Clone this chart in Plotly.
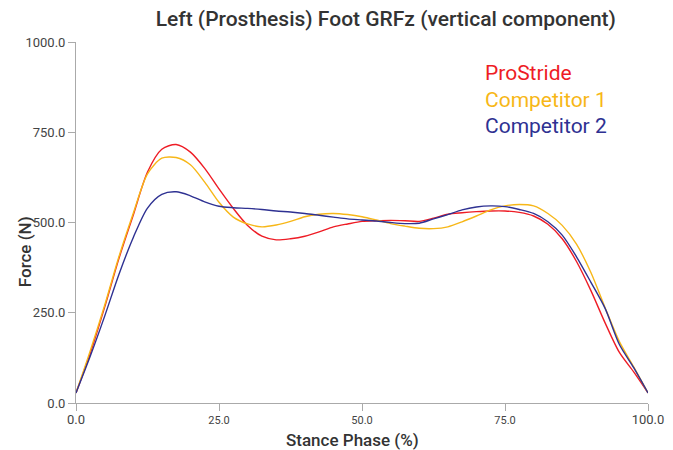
import plotly.graph_objects as go

stance = [0, 2.5, 5, 7.5, 10, 12.5, 15, 17.5, 20, 22.5, 25, 27.5, 30, 32.5, 35, 37.5, 40,
          42.5, 45, 47.5, 50, 52.5, 55, 57.5, 60, 62.5, 65, 67.5, 70, 72.5, 75, 77.5, 80,
          82.5, 85, 87.5, 90, 92.5, 95, 97.5, 100]

prostride = [28, 138, 265, 400, 520, 640, 703, 716, 695, 650, 593, 539, 492, 462, 452, 455, 462,
             474, 488, 496, 503, 505, 506, 505, 503, 512, 523, 527, 530, 532, 532, 528, 518,
             495, 455, 392, 312, 222, 140, 86, 28]

competitor1 = [28, 145, 270, 405, 525, 635, 678, 680, 660, 612, 556, 515, 496, 488, 493, 503, 516,
               523, 525, 522, 516, 507, 497, 490, 484, 483, 488, 502, 518, 535, 546, 550, 546,
               525, 492, 440, 362, 264, 170, 100, 28]

competitor2 = [28, 130, 240, 356, 458, 540, 578, 585, 574, 557, 545, 541, 539, 536, 532, 529, 525,
               520, 515, 510, 507, 504, 500, 497, 498, 510, 522, 535, 543, 546, 544, 536, 525,
               502, 465, 405, 335, 262, 162, 98, 28]

series_names = ["ProStride", "Competitor 1", "Competitor 2"]
series_colors = ["#EE1C25", "#F7B718", "#2E3192"]

x_ticks = [0, 25, 50, 75, 100]
x_ticktext = ["0.0", "25.0", "50.0", "75.0", "100.0"]
y_ticks = [0, 250, 500, 750, 1000]
y_ticktext = ["0.0", "250.0", "500.0", "750.0", "1000.0"]

FONT = "Roboto, 'Open Sans', sans-serif"

W, H = 673, 450
PL, PR, PT, PB = 76, 648, 41.5, 403  # plot area in page pixels
PW, PH = PR - PL, PB - PT


def px_x(px):
    return (px - PL) / PW


def px_y(py):
    return (PB - py) / PH


fig = go.Figure()
for name, ys, col in zip(series_names, [prostride, competitor1, competitor2], series_colors):
    fig.add_trace(go.Scatter(x=stance, y=ys, mode="lines", name=name,
                             line=dict(color=col, width=1.4, shape="spline", smoothing=0.8),
                             showlegend=False))

x_tt = [f"<span style='font-size:13px'>{t}</span>" if t in ("0.0", "100.0") else t for t in x_ticktext]

fig.update_layout(
    width=W, height=H,
    margin=dict(l=PL, r=W - PR, t=PT, b=H - PB, autoexpand=False),
    paper_bgcolor="white", plot_bgcolor="white",
    font=dict(family=FONT, color="#444"),
    title=dict(text="Left (Prosthesis) Foot GRFz (vertical component)",
               x=364.5 / W, xanchor="center", xref="paper",
               y=1 - 18.5 / H, yanchor="middle", yref="container",
               font=dict(size=21, color="#333", family=FONT, weight=500)),
    xaxis=dict(range=[0, 100], tickvals=x_ticks, ticktext=x_tt,
               showline=True, linecolor="#aaa", linewidth=1,
               ticks="outside", ticklen=7, tickcolor="#aaa",
               showgrid=False, zeroline=False, automargin=False,
               tickfont=dict(size=11, color="#444", family=FONT)),
    yaxis=dict(range=[0, 1000], tickvals=y_ticks, ticktext=y_ticktext,
               showline=True, linecolor="#aaa", linewidth=1,
               ticks="outside", ticklen=7, tickcolor="#aaa",
               showgrid=False, zeroline=False, automargin=False,
               tickfont=dict(size=13, color="#444", family=FONT)),
)

# axis titles
fig.add_annotation(text="Stance Phase (%)", xref="paper", yref="paper",
                   x=px_x(352), y=px_y(440), xanchor="center", yanchor="middle",
                   showarrow=False, font=dict(size=17, color="#333", family=FONT, weight=500))
fig.add_annotation(text="Force (N)", xref="paper", yref="paper", textangle=-90,
                   x=px_x(25), y=px_y(252), xanchor="center", yanchor="middle",
                   showarrow=False, font=dict(size=17, color="#333", family=FONT, weight=500))

# legend as colored text
legend_y = [73, 100, 126]
for name, col, py in zip(series_names, series_colors, legend_y):
    fig.add_annotation(text=name, xref="paper", yref="paper",
                       x=px_x(483), y=px_y(py),
                       xanchor="left", yanchor="middle", showarrow=False,
                       font=dict(size=21, color=col, family=FONT))

fig.write_html("out.html", config={"displayModeBar": False},
               post_script="document.body.style.margin='0';")
